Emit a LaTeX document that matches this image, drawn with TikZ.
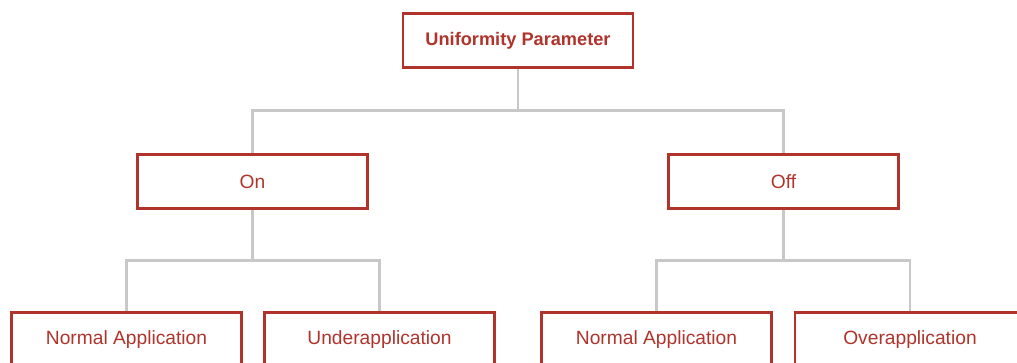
\documentclass[tikz,border=0pt]{standalone}
\usepackage{fontspec}
\setmainfont{Liberation Sans}
\definecolor{boxred}{HTML}{B0342B}
\definecolor{linkgray}{HTML}{C8C8C8}
\begin{document}
\begin{tikzpicture}[x=1pt,y=-1pt,
  box/.style={draw=boxred, line width=2.6pt, fill=white, minimum width=230pt,
    minimum height=54pt, inner sep=0pt, text=boxred, font=\fontsize{19.2}{23}\selectfont},
  rootbox/.style={box, font=\fontsize{18.2}{22}\selectfont\bfseries},
  link/.style={draw=linkgray, line width=2.6pt}]
\useasboundingbox (0,0) rectangle (1017,362);

% tree levels
\node[rootbox] (root) at (518,40.5) {Uniformity Parameter};
\node[box] (on)  at (252.5,181.5) {On};
\node[box] (off) at (783.5,181.5) {Off};
\node[box] (onnormal) at (126.5,339.5) {Normal Application};
\node[box] (under)    at (379.5,339.5) {Underapplication};
\node[box] (offnormal) at (656.5,339.5) {Normal Application};
\node[box] (over)      at (910,339.5) {Overapplication};

% elbow connectors
\coordinate (rootbus) at (518,110.5);
\coordinate (onbus) at (252.5,260.5);
\coordinate (offbus) at (783.5,260.5);
\draw[link] (root.south) -- (rootbus);
\draw[link] (rootbus) -| (on.north);
\draw[link] (rootbus) -| (off.north);
\draw[link] (on.south) -- (onbus);
\draw[link] (onbus) -| (onnormal.north);
\draw[link] (onbus) -| (under.north);
\draw[link] (off.south) -- (offbus);
\draw[link] (offbus) -| (offnormal.north);
\draw[link] (offbus) -| (over.north);
\end{tikzpicture}
\end{document}
